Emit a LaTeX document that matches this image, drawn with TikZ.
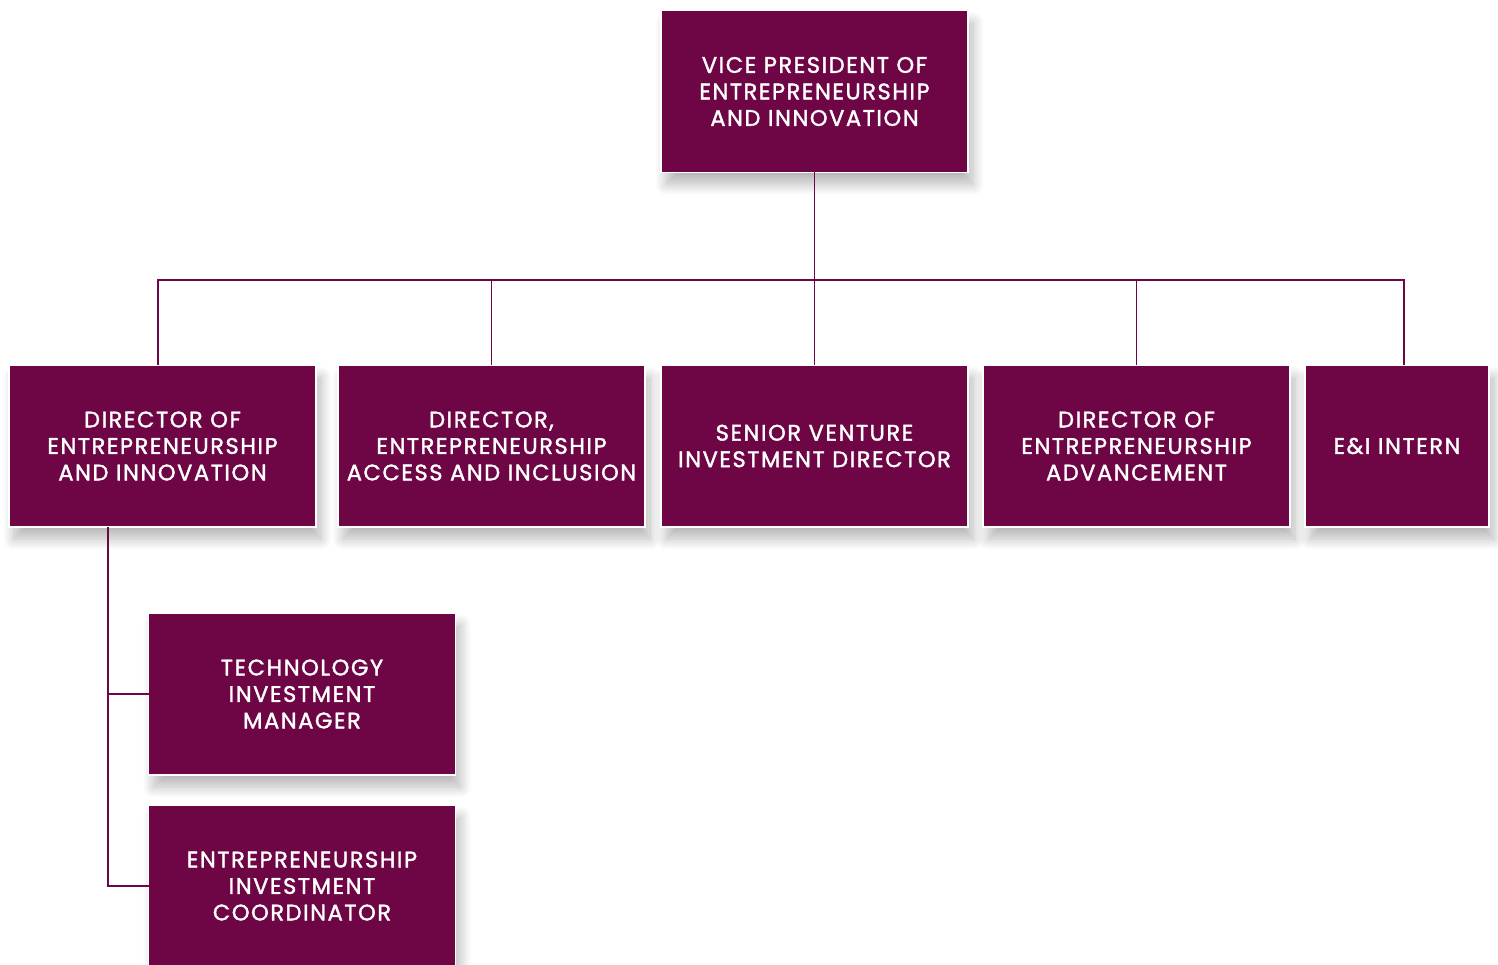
\documentclass[tikz,border=0pt]{standalone}
\usepackage{fontspec}
\setmainfont{Poppins}[UprightFeatures={FakeBold=1.6},LetterSpace=7]
\usepackage{xcolor}
\usepackage{tikz}
\usetikzlibrary{positioning,shadows.blur}

\definecolor{eiplum}{RGB}{110,6,70}

\begin{document}
\begin{tikzpicture}[
      x=1pt, y=1pt,
      node distance=15pt and 15pt,
      role/.style={fill=eiplum,draw=white,line width=1.2pt,text=white,outer sep=0pt,
        minimum width=307pt,minimum height=162pt,align=center,inner sep=0pt,
        font=\fontsize{22.5}{26.5}\selectfont,
        blur shadow={shadow xshift=5pt,shadow yshift=-12pt,shadow blur radius=11pt,
          shadow opacity=28,shadow blur steps=12}},
      link/.style={draw=eiplum,line width=1.2pt},
    ]
    \useasboundingbox (0,0) rectangle (1498,-965);
    % Nodes
    \node[role] (vp) at (814.5,-91.5) {VICE PRESIDENT OF\\ENTREPRENEURSHIP\\AND INNOVATION};
    \node[role] (dei) at (162.5,-446) {DIRECTOR OF\\ENTREPRENEURSHIP\\AND INNOVATION};
    \node[role, right=22pt of dei] (deai) {DIRECTOR,\\ENTREPRENEURSHIP\\ACCESS AND INCLUSION};
    \node[role, right=16pt of deai] (svid) {SENIOR VENTURE\\INVESTMENT DIRECTOR};
    \node[role, right=of svid] (dea) {DIRECTOR OF\\ENTREPRENEURSHIP\\ADVANCEMENT};
    \node[role, right=of dea, minimum width=184pt] (intern) {E\&I INTERN};
    \node[role] (tim) at (302,-694) {TECHNOLOGY\\INVESTMENT\\MANAGER};
    \node[role] (eic) at (302,-886) {ENTREPRENEURSHIP\\INVESTMENT\\COORDINATOR};

    % Lines
    \coordinate (bus) at (0,-280);
    \draw[link] (vp.south) -- (svid.north);
    \draw[link] ([xshift=-4.5pt]dei.north) |- (bus -| intern.north) -- ++(7,0) coordinate (ibus) -- (ibus |- intern.north);
    \draw[link] (deai.north) -- (deai.north |- bus);
    \draw[link] (dea.north) -- (dea.north |- bus);
    \draw[link] ([xshift=-54.5pt]dei.south) coordinate (sub) |- (tim.west);
    \draw[link] (sub) |- (eic.west);
  \end{tikzpicture}
\end{document}
